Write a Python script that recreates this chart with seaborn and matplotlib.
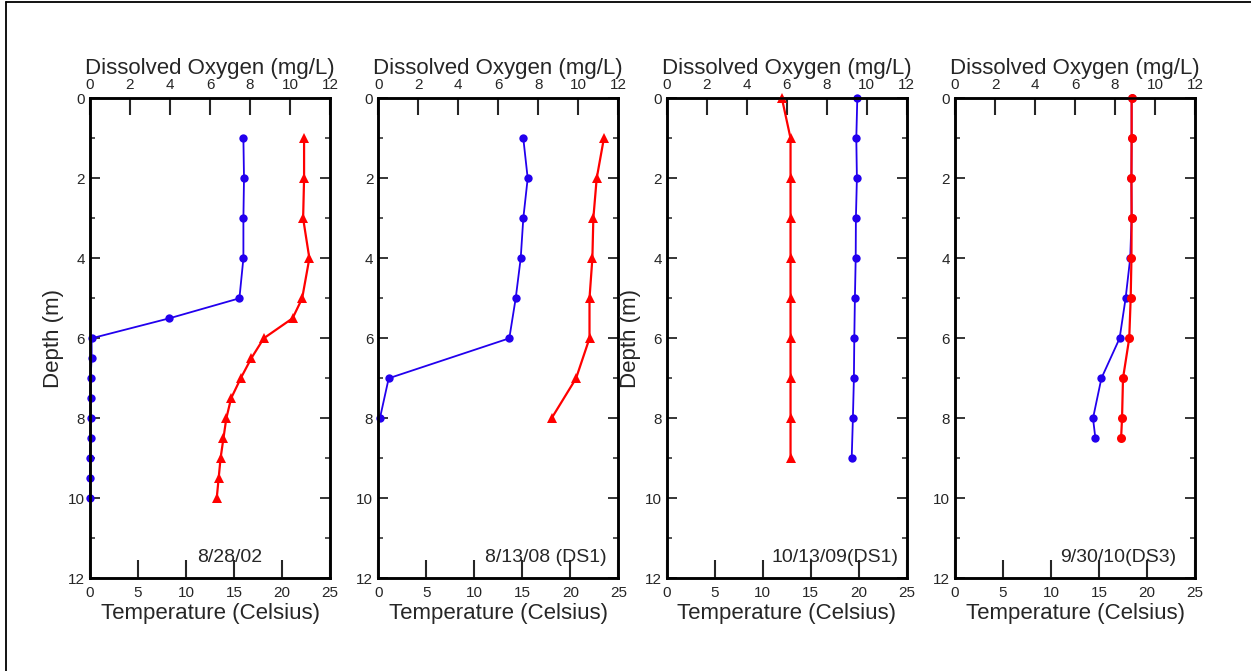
import numpy as np
import pandas as pd
import matplotlib
matplotlib.use("Agg")
import matplotlib.pyplot as plt
from matplotlib.lines import Line2D
from matplotlib.ticker import MultipleLocator
from matplotlib.transforms import blended_transform_factory
import seaborn as sns

# ---- profile data -------------------------------------------------------
# 8/28/02
depth_a = [1, 2, 3, 4, 5, 5.5, 6, 6.5, 7, 7.5, 8, 8.5, 9, 9.5, 10]
do_a = [7.67, 7.7, 7.67, 7.67, 7.47, 3.97, 0.08, 0.08, 0.03, 0.03, 0.03, 0.03, 0.0, 0.0, 0.0]
temp_a = [22.3, 22.3, 22.2, 22.85, 22.1, 21.1, 18.1, 16.8, 15.7, 14.7, 14.2, 13.9, 13.6, 13.4, 13.2]

# 8/13/08 (DS1)
depth_b = [1, 2, 3, 4, 5, 6, 7, 8]
do_b = [7.25, 7.47, 7.25, 7.12, 6.87, 6.55, 0.52, 0.08]
temp_b = [23.5, 22.75, 22.4, 22.3, 22.0, 22.0, 20.6, 18.05]

# 10/13/09 (DS1)
depth_c = [0, 1, 2, 3, 4, 5, 6, 7, 8, 9]
do_c = [9.53, 9.48, 9.51, 9.46, 9.45, 9.41, 9.38, 9.36, 9.31, 9.25]
temp_c = [12.0, 12.9, 12.9, 12.9, 12.9, 12.9, 12.9, 12.9, 12.9, 12.9]

# 9/30/10 (DS3)
depth_d = [0, 1, 2, 3, 4, 5, 6, 7, 8, 8.5]
do_d = [8.83, 8.83, 8.82, 8.83, 8.76, 8.53, 8.23, 7.32, 6.9, 7.02]
temp_d = [18.4, 18.4, 18.38, 18.4, 18.38, 18.3, 18.15, 17.5, 17.4, 17.3]

dates = ["8/28/02", "8/13/08 (DS1)", "10/13/09(DS1)", "9/30/10(DS3)"]
temp_markers = ["^", "^", "^", "o"]
date_xpos = [0.58, 0.70, 0.70, 0.68]
show_depth_label = [True, False, True, False]

profiles = [
    (depth_a, do_a, temp_a),
    (depth_b, do_b, temp_b),
    (depth_c, do_c, temp_c),
    (depth_d, do_d, temp_d),
]

# ---- style ----------------------------------------------------------------
sns.set_style("white")
plt.rcParams["font.family"] = ["Liberation Sans", "DejaVu Sans"]

BLUE = "#2200ee"
RED = "#ff0000"
W, H = 1251, 671
fig = plt.figure(figsize=(W / 100, H / 100), dpi=100)

lefts_px = [90, 378.3, 666.7, 955]
top_px, bottom_px = 98.3, 578.3
width_px = 240

for i, (dep, do, temp) in enumerate(profiles):
    ax = fig.add_axes([lefts_px[i] / W, (H - bottom_px) / H,
                       width_px / W, (bottom_px - top_px) / H])
    tw = ax.twiny()

    # main axes: dissolved oxygen on the top scale
    ax.xaxis.set_ticks_position("top")
    ax.xaxis.set_label_position("top")
    # twin axes: temperature on the bottom scale
    tw.xaxis.set_ticks_position("bottom")
    tw.xaxis.set_label_position("bottom")

    df_do = pd.DataFrame({"depth": dep, "do": do})
    df_t = pd.DataFrame({"depth": dep, "temp": temp})

    sns.lineplot(data=df_do, x="do", y="depth", ax=ax, orient="y", sort=False,
                 estimator=None, color=BLUE, lw=1.3, marker="o",
                 markersize=6, markeredgewidth=0, clip_on=False)
    sns.lineplot(data=df_t, x="temp", y="depth", ax=tw, orient="y", sort=False,
                 estimator=None, color=RED, lw=1.6, marker=temp_markers[i],
                 markersize=7.5 if temp_markers[i] == "^" else 6.5,
                 markeredgewidth=0, clip_on=False)

    ax.set_xlim(0, 12)
    tw.set_xlim(0, 25)
    ax.set_ylim(12, 0)

    ax.set_xticks(np.arange(0, 13, 2))
    tw.set_xticks(np.arange(0, 26, 5))
    ax.yaxis.set_major_locator(MultipleLocator(2))
    ax.yaxis.set_minor_locator(MultipleLocator(1))

    ax.tick_params(axis="x", which="major", direction="in", length=12, width=1.5,
                   top=True, bottom=False, labeltop=True, labelbottom=False,
                   labelsize=11, pad=4.5)
    tw.tick_params(axis="x", which="major", direction="in", length=13, width=1.5,
                   bottom=True, top=False, labelbottom=True, labeltop=False,
                   labelsize=11, pad=5.5)
    ax.tick_params(axis="y", which="major", direction="in", length=7, width=1.3,
                   left=True, right=True, labelleft=True, labelright=False,
                   labelsize=11, pad=3.6)
    ax.tick_params(axis="y", which="minor", direction="in", length=3.5, width=1.1,
                   left=True, right=True)

    ax.set_xlabel("Dissolved Oxygen (mg/L)", fontsize=16, labelpad=3)
    tw.set_xlabel("Temperature (Celsius)", fontsize=16, labelpad=2)
    if show_depth_label[i]:
        ax.set_ylabel("Depth (m)", fontsize=16)
        ax.yaxis.set_label_coords(-0.108, 0.5)
    else:
        ax.set_ylabel("")

    for a in (ax, tw):
        for s in a.spines.values():
            s.set_linewidth(1.8)
            s.set_color("black")

    tw.text(date_xpos[i], 11.6, dates[i],
            transform=blended_transform_factory(tw.transAxes, ax.transData),
            ha="center", va="baseline", fontsize=14)

# frame lines along the top and left edge of the figure
fig.add_artist(Line2D([6 / W, 1], [1 - 1.7 / H, 1 - 1.7 / H],
                      transform=fig.transFigure, color="black", lw=1.3))
fig.add_artist(Line2D([6 / W, 6 / W], [0, 1 - 1.7 / H],
                      transform=fig.transFigure, color="black", lw=1.3))

fig.savefig("out.png", dpi=100)
